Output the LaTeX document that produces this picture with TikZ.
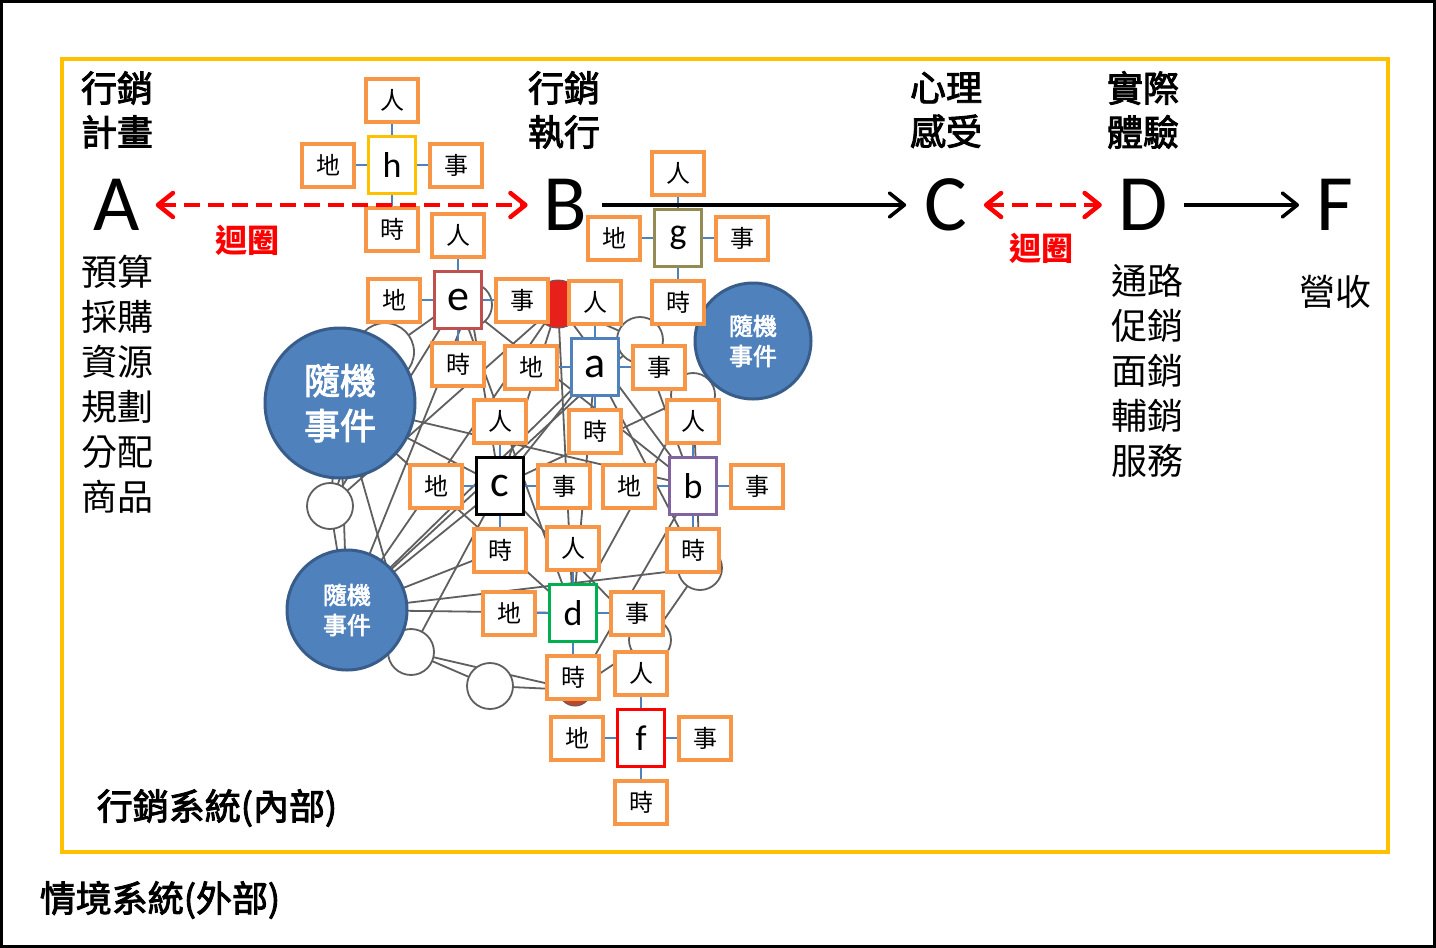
\documentclass[tikz,border=0pt]{standalone}
\usepackage{fontspec}
\setmainfont{Carlito}
\newfontfamily\cjk{Noto Sans CJK TC}
\newfontfamily\cjkb[FakeBold=2.5]{Noto Sans CJK TC}
\usetikzlibrary{arrows.meta}
\definecolor{orng}{HTML}{F79646}
\definecolor{ablue}{HTML}{4F81BD}
\definecolor{dblue}{HTML}{385D8A}
\definecolor{gold}{HTML}{FFC000}
\definecolor{netgray}{HTML}{5F5F5F}
\definecolor{hcol}{HTML}{FFC000}
\definecolor{gcol}{HTML}{948A54}
\definecolor{ecol}{HTML}{C0504D}
\definecolor{acol}{HTML}{4F81BD}
\definecolor{ccol}{HTML}{000000}
\definecolor{bcol}{HTML}{8064A2}
\definecolor{dcol}{HTML}{00B050}
\definecolor{fcol}{HTML}{FF0000}
\definecolor{redc}{HTML}{FF0000}
\definecolor{redcirc}{HTML}{E8201C}
\definecolor{browncirc}{HTML}{C0462A}
\tikzset{
 smallbox/.style={draw=orng, line width=4pt, fill=white, minimum width=52pt, minimum height=43pt, inner sep=0pt, font=\cjk\fontsize{24}{26}\selectfont},
 centerbox/.style={draw=#1, line width=3.5pt, fill=white, minimum width=47pt, minimum height=57pt, inner sep=0pt},
 conn/.style={draw=ablue, line width=1.3pt},
 netc/.style={circle, draw=netgray, line width=1.8pt, fill=white, inner sep=0pt},
 netl/.style={draw=netgray, line width=1.8pt},
 event/.style={circle, fill=ablue, draw=dblue, line width=3pt, inner sep=0pt, text=white, align=center},
 biglet/.style={font=\fontsize{80}{80}\selectfont},
 head/.style={font=\cjkb\fontsize{36}{44}\selectfont, align=center},
 listtext/.style={font=\cjk\fontsize{36}{45}\selectfont, align=center},
 looplabel/.style={font=\cjk\bfseries\fontsize{32}{36}\selectfont, text=redc},
 loopline/.style={draw=redc, line width=4.5pt, dash pattern=on 16pt off 8pt, {Straight Barb[length=15pt,width=24pt,round]}-{Straight Barb[length=15pt,width=24pt,round]}},
 flow/.style={draw=black, line width=3.5pt, -{Straight Barb[length=15pt,width=24pt,round]}},
 syslabel/.style={font=\cjkb\fontsize{36}{40}\selectfont},
}
\newcommand\mkcluster[6]{%
 \node[centerbox=#4, font=\fontsize{#6}{#6}\selectfont] (#1) at (#2,#3) {#5};
 \node[smallbox] (#1-p) at (#2,{#3-65}) {人};
 \node[smallbox] (#1-l) at ({#2-64},#3) {地};
 \node[smallbox] (#1-s) at ({#2+64},#3) {事};
 \node[smallbox] (#1-t) at (#2,{#3+64}) {時};
 \draw[conn] (#1) -- (#1-p);
 \draw[conn] (#1) -- (#1-l);
 \draw[conn] (#1) -- (#1-s);
 \draw[conn] (#1) -- (#1-t);
}
\begin{document}
\begin{tikzpicture}[x=1pt,y=-1pt]
\useasboundingbox (0,0) rectangle (1436,948);
\fill[white] (0,0) rectangle (1436,948);
\draw[line width=3pt] (1.5,1.5) rectangle (1434.5,946.5);
\draw[gold, line width=3.5pt] (62,59) rectangle (1388,852);

% background network
\coordinate (LB) at (347,610);
\coordinate (BB) at (340,403);
\coordinate (n1) at (385,352);
\coordinate (n2) at (330,506);
\coordinate (n3) at (411,652);
\coordinate (n4) at (490,686);
\coordinate (n5) at (700,568);
\coordinate (n6) at (470,305);
\coordinate (n7) at (640,340);
\coordinate (n8) at (693,395);
\coordinate (n9) at (650,640);
\coordinate (R1) at (558,304);
\coordinate (R2) at (575,690);
\coordinate (pa) at (595,367);
\coordinate (pb) at (693,486);
\coordinate (pc) at (500,486);
\coordinate (pd) at (573,613);
\coordinate (pe) at (458,300);
\coordinate (pct) at (500,550);
\foreach \u/\v in {LB/n2,LB/BB,LB/n6,LB/R1,LB/pa,LB/n7,LB/pct,LB/n5,LB/pd,LB/n3,LB/pc,
  BB/n2,BB/n1,BB/pc,BB/pd,BB/pb,BB/n3,n2/n1,n2/R1,n2/pe,n3/n4,n3/R2,n4/R2,n3/pc,
  R1/pc,R1/pb,R1/n7,R1/pd,n7/n8,n8/n5,n8/pc,n5/n9,n9/R2,pa/n5,pa/pd,pc/n9,pe/pb,
  pe/pd,n6/pc,n1/pe,pb/R2,n8/pd,n7/pb,pa/pc}
  {\draw[netl] (\u) -- (\v);}
\node[netc, minimum size=58pt] (c1) at (n1) {};
\node[netc, minimum size=46pt] (c2) at (n2) {};
\node[netc, minimum size=46pt] (c3) at (n3) {};
\node[netc, minimum size=46pt] (c4) at (n4) {};
\node[netc, minimum size=44pt] (c5) at (n5) {};
\node[netc, minimum size=44pt] (c6) at (n6) {};
\node[netc, minimum size=46pt] (c7) at (n7) {};
\node[netc, minimum size=44pt] (c8) at (n8) {};
\node[netc, minimum size=42pt] (c9) at (n9) {};
\node[circle, fill=redcirc, draw=netgray, line width=1pt, minimum size=48pt, inner sep=0pt] (cr1) at (R1) {};
\node[circle, fill=browncirc, draw=netgray, line width=1pt, minimum size=32pt, inner sep=0pt] (cr2) at (R2) {};

% random events
\node[event, minimum size=150pt, font=\cjkb\fontsize{36}{45}\selectfont] (ev1) at (BB) {隨機\\事件};
\node[event, minimum size=116pt, font=\cjkb\fontsize{24}{30}\selectfont] (ev2) at (753,341) {隨機\\事件};
\node[event, minimum size=120pt, font=\cjkb\fontsize{24}{30}\selectfont] (ev3) at (LB) {隨機\\事件};

% clusters
\mkcluster{h}{392}{165}{hcol}{h}{36}
\mkcluster{g}{678}{238}{gcol}{g}{36}
\mkcluster{e}{458}{300}{ecol}{e}{44}
\mkcluster{a}{595}{367}{acol}{a}{44}
\mkcluster{c}{500}{486}{ccol}{c}{44}
\mkcluster{b}{693}{486}{bcol}{b}{36}
\mkcluster{d}{573}{613}{dcol}{d}{36}
\mkcluster{f}{641}{738}{fcol}{f}{36}

% headings
\node[head] (hA) at (117,110) {行銷\\計畫};
\node[head] (hB) at (564,110) {行銷\\執行};
\node[head] (hC) at (946,110) {心理\\感受};
\node[head] (hD) at (1143,110) {實際\\體驗};

% letters
\node[biglet] (A) at (117,205) {A};
\node[biglet] (B) at (565,205) {B};
\node[biglet] (C) at (946,205) {C};
\node[biglet] (D) at (1143,205) {D};
\node[biglet] (F) at (1335,205) {F};

% lists
\node[listtext] (listA) at (117,384) {預算\\採購\\資源\\規劃\\分配\\商品};
\node[listtext] (listD) at (1147,371) {通路\\促銷\\面銷\\輔銷\\服務};
\node[listtext] (listF) at (1335,292) {營收};

% arrows
\draw[loopline, shorten <=12pt, shorten >=12pt] (A) -- (B);
\draw[flow, shorten <=12pt, shorten >=15pt] (B) -- (C);
\draw[loopline, shorten <=13pt, shorten >=13pt] (C) -- (D);
\draw[flow, shorten <=13pt, shorten >=14pt] (D) -- (F);
\node[looplabel] (loop1) at (247,240) {迴圈};
\node[looplabel] (loop2) at (1041,248) {迴圈};

% system labels
\node[syslabel] (inner) at (217,808) {行銷系統(內部)};
\node[syslabel] (outer) at (160,900) {情境系統(外部)};
\end{tikzpicture}
\end{document}
